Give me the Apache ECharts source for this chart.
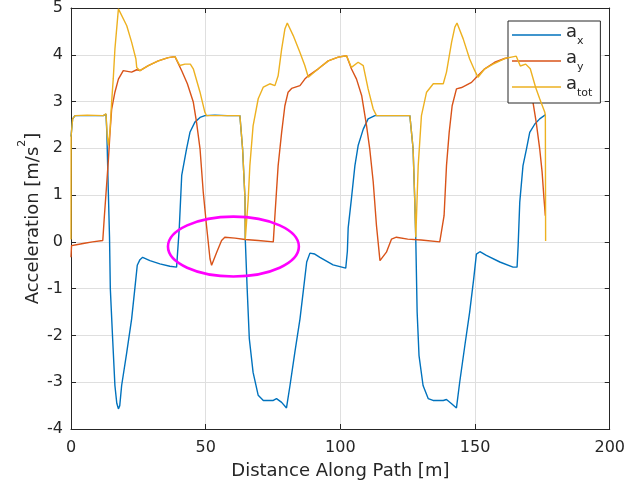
<!DOCTYPE html>
<html>
<head>
<meta charset="utf-8">
<script src="https://cdn.jsdelivr.net/npm/echarts@6/dist/echarts.min.js"></script>
<style>
  html, body { margin: 0; padding: 0; background: #fff; }
  #chart { width: 628px; height: 485px; }
</style>
</head>
<body>
<div id="chart"></div>
<script>
// Longitudinal acceleration a_x along the path: [distance m, m/s^2]
const axData = [
  [0, 2.25], [0.6, 2.63], [1.5, 2.70], [6, 2.70], [12, 2.70], [13.0, 2.73], [13.3, 2.35],
  [13.8, 1.2], [14.3, 0.1], [14.6, -1.0], [15.4, -2.0], [16.3, -3.07], [17.0, -3.45],
  [17.6, -3.57], [18.1, -3.5], [18.8, -3.07], [20.7, -2.36], [22.5, -1.65], [23.7, -1.0],
  [24.6, -0.5], [25.6, -0.38], [26.6, -0.33], [29.3, -0.4], [33.0, -0.47], [36.7, -0.52],
  [39.2, -0.54], [39.9, -0.5], [40.2, 0.3], [41.1, 1.42], [42.9, 1.99], [44.2, 2.35],
  [46.0, 2.56], [47.9, 2.66], [49.7, 2.70], [53.4, 2.71], [58, 2.70], [62.7, 2.70],
  [63.7, 1.99], [64.6, 0.92], [64.7, 0.05], [65.4, -1.0], [66.2, -2.07], [67.6, -2.79],
  [69.5, -3.28], [71.4, -3.39], [75.1, -3.39], [76.3, -3.35], [78.2, -3.43], [80.0, -3.55],
  [81.3, -3.07], [83.1, -2.36], [85.0, -1.65], [86.2, -1.07], [87.5, -0.43], [88.7, -0.24],
  [89.3, -0.21], [90.5, -0.26], [92.4, -0.33], [97.3, -0.49], [102.0, -0.56], [102.6, -0.2],
  [102.9, 0.3], [104.1, 0.92], [105.4, 1.63], [106.6, 2.06], [108.5, 2.41], [110.3, 2.63],
  [112.8, 2.70], [120, 2.70], [125.8, 2.70], [127.0, 1.99], [127.6, 0.92], [128.0, 0.05],
  [128.5, -1.5], [129.2, -2.43], [130.7, -3.07], [132.6, -3.35], [134.4, -3.39],
  [138.2, -3.39], [139.4, -3.37], [141.3, -3.46], [143.1, -3.55], [144.3, -3.0],
  [146.2, -2.22], [148.0, -1.5], [149.5, -0.79], [150.5, -0.26], [151.8, -0.21],
  [154.2, -0.29], [159.2, -0.43], [164.1, -0.54], [165.6, -0.54], [166.0, -0.08],
  [166.6, 0.85], [167.8, 1.63], [169.1, 1.99], [170.3, 2.34], [172.2, 2.52], [174.0, 2.63],
  [176.2, 2.72]
];

// Lateral acceleration a_y
const ayData = [
  [0, -0.33], [0.2, -0.08], [2, -0.06], [5, -0.03], [8, 0.0], [11.8, 0.03], [12.4, 0.56],
  [13.2, 1.2], [13.9, 1.77], [14.5, 2.35], [15.1, 2.84], [16.3, 3.2], [17.6, 3.48],
  [19.4, 3.66], [22.5, 3.63], [24.4, 3.68], [25.6, 3.66], [28.7, 3.77], [32.4, 3.87],
  [36.1, 3.94], [38.6, 3.96], [39.2, 3.97], [41.1, 3.66], [43.2, 3.38], [45.4, 2.99],
  [46.6, 2.56], [47.9, 1.99], [49.1, 1.06], [50.3, 0.35], [51.6, -0.36], [52.2, -0.5],
  [54.1, -0.22], [55.9, 0.03], [57.1, 0.1], [60.9, 0.08], [64.6, 0.05], [69.5, 0.03],
  [75.1, 0.0], [75.7, 0.56], [76.9, 1.63], [78.2, 2.34], [79.4, 2.91], [80.6, 3.2],
  [81.9, 3.28], [85.0, 3.34], [86.8, 3.48], [88.1, 3.55], [91.8, 3.7], [95.5, 3.87],
  [99.2, 3.95], [102.3, 3.98], [104.1, 3.7], [106.0, 3.48], [107.9, 3.13], [109.7, 2.49],
  [110.9, 1.99], [112.2, 1.28], [113.4, 0.35], [114.7, -0.4], [115.3, -0.43], [117.1, -0.22],
  [119.0, 0.06], [120.8, 0.1], [125, 0.06], [130, 0.04], [136.9, 0.0], [137.5, 0.02],
  [138.5, 0.56], [139.4, 1.63], [140.4, 2.34], [141.5, 2.91], [143.1, 3.27], [145.0, 3.3],
  [148.7, 3.41], [150.5, 3.52], [153.6, 3.7], [157.3, 3.84], [161.0, 3.92], [163.5, 3.95],
  [165.3, 3.97], [167.2, 3.66], [169.3, 3.38], [171.5, 2.99], [172.7, 2.56], [174.0, 1.99],
  [174.9, 1.49], [175.6, 0.92], [176.1, 0.56]
];

// Total acceleration magnitude a_tot
const atotData = [
  [0, 0.05], [0.05, 2.27], [0.6, 2.63], [1.5, 2.7], [6, 2.71], [12, 2.7], [13.0, 2.74],
  [13.4, 2.3], [13.9, 2.06], [14.5, 2.4], [15.1, 3.0], [15.7, 3.5], [16.3, 4.12],
  [17.6, 4.98], [18.2, 5.01], [20.7, 4.62], [22.5, 4.27], [24.1, 3.91], [24.4, 3.73],
  [25.6, 3.66], [28.7, 3.77], [32.4, 3.87], [36.1, 3.94], [38.6, 3.96], [39.2, 3.97],
  [40.4, 3.77], [42.3, 3.8], [44.3, 3.8], [45.4, 3.7], [47.9, 3.2], [49.7, 2.77], [50.3, 2.7],
  [56, 2.7], [62.7, 2.7], [63.7, 1.99], [64.6, 0.92], [64.7, 0.05], [65.8, 0.92],
  [66.4, 1.63], [67.6, 2.48], [69.5, 3.06], [71.4, 3.31], [73.8, 3.38], [75.7, 3.34],
  [76.9, 3.55], [78.2, 4.12], [79.4, 4.55], [80.3, 4.68], [82.5, 4.41], [85.0, 4.05],
  [86.8, 3.77], [88.1, 3.52], [91.8, 3.7], [95.5, 3.87], [99.2, 3.95], [102.3, 3.98],
  [104.1, 3.73], [106.6, 3.84], [108.5, 3.77], [110.3, 3.27], [112.2, 2.84], [113.4, 2.7],
  [120, 2.7], [125.8, 2.7], [127.0, 1.99], [127.6, 0.92], [128.0, 0.1], [128.9, 1.63],
  [130.1, 2.7], [132.0, 3.2], [134.5, 3.38], [138.2, 3.38], [139.4, 3.63], [141.3, 4.27],
  [142.5, 4.59], [143.3, 4.68], [145.6, 4.34], [148.0, 3.91], [149.9, 3.66], [151.1, 3.52],
  [153.6, 3.7], [156.7, 3.8], [161.0, 3.92], [163.5, 3.95], [165.3, 3.97], [166.8, 3.76],
  [168.8, 3.8], [170.5, 3.7], [172.5, 3.3], [174.0, 3.06], [175.9, 2.77], [176.1, 2.71],
  [176.2, 0.02]
];

// Highlighted region: [centre distance, centre accel, half-width m, half-height m/s^2]
const highlightRegion = [[60.3, -0.1, 24.3, 0.64]];

const seriesNames = ['ax', 'ay', 'atot'];
const legendSubscripts = { ax: 'x', ay: 'y', atot: 'tot' };
const seriesColors = ['#0072BD', '#D95319', '#EDB120'];

const xTicks = { min: 0, max: 200, interval: 50 };
const yTicks = { min: -4, max: 5, interval: 1 };

const FONT = 'DejaVu Sans';
const INK = '#262626';

const chart = echarts.init(document.getElementById('chart'), null, { renderer: 'canvas' });

function axisBase(range, extra) {
  return Object.assign({
    type: 'value',
    min: range.min, max: range.max, interval: range.interval,
    axisLine: { show: true, onZero: false, lineStyle: { color: INK, width: 1 } },
    axisTick: { show: true, inside: true, length: 5, lineStyle: { color: INK, width: 1 } },
    splitLine: { show: false },
    axisLabel: { show: false }
  }, extra);
}

const lineSeries = [axData, ayData, atotData].map((d, i) => ({
  name: seriesNames[i],
  type: 'line',
  data: d,
  symbol: 'none',
  showSymbol: false,
  animation: false,
  lineStyle: { color: seriesColors[i], width: 1.4 },
  itemStyle: { color: seriesColors[i] },
  z: 2 + i
}));

chart.setOption({
  animation: false,
  backgroundColor: '#ffffff',
  textStyle: { fontFamily: FONT },
  grid: { left: 71, right: 18, top: 8, bottom: 52, containLabel: false },
  xAxis: [
    axisBase(xTicks, {
      position: 'bottom',
      name: 'Distance Along Path [m]',
      nameLocation: 'middle',
      nameGap: 33,
      nameMoveOverlap: false,
      nameTextStyle: { color: INK, fontSize: 18, fontFamily: FONT },
      splitLine: { show: true, lineStyle: { color: '#dfdfdf', width: 1 } },
      axisLabel: { show: true, color: INK, fontSize: 16, fontFamily: FONT, margin: 11 }
    }),
    axisBase(xTicks, { position: 'top' })
  ],
  yAxis: [
    axisBase(yTicks, {
      position: 'left',
      name: '{n|Acceleration [m/s}{sup|2}{n|]}',
      nameLocation: 'middle',
      nameGap: 29,
      nameMoveOverlap: false,
      nameTextStyle: {
        color: INK, fontFamily: FONT,
        rich: {
          n: { fontSize: 18, fontFamily: FONT, color: INK, lineHeight: 25, verticalAlign: 'bottom' },
          sup: { fontSize: 11, fontFamily: FONT, color: INK, lineHeight: 11, verticalAlign: 'top' }
        }
      },
      splitLine: { show: true, lineStyle: { color: '#dfdfdf', width: 1 } },
      axisLabel: { show: true, color: INK, fontSize: 16, fontFamily: FONT, margin: 8 }
    }),
    axisBase(yTicks, { position: 'right' })
  ],
  legend: {
    orient: 'vertical',
    left: 508,
    top: 21,
    data: seriesNames,
    icon: 'rect',
    itemWidth: 49,
    itemHeight: 1.4,
    itemGap: 2,
    padding: [2, 8, 4, 4],
    borderColor: INK,
    borderWidth: 1,
    borderRadius: 0,
    backgroundColor: '#ffffff',
    selectedMode: false,
    formatter: name => '{a|a}{s|' + legendSubscripts[name] + '}',
    textStyle: {
      color: INK,
      fontFamily: FONT,
      rich: {
        a: { fontSize: 18, fontFamily: FONT, color: INK, lineHeight: 18, verticalAlign: 'top' },
        s: { fontSize: 11, fontFamily: FONT, color: INK, lineHeight: 24, verticalAlign: 'bottom' }
      }
    }
  },
  series: lineSeries.concat([{
    type: 'custom',
    name: 'region',
    xAxisIndex: 0,
    yAxisIndex: 0,
    data: highlightRegion,
    silent: true,
    z: 10,
    renderItem: function (params, api) {
      const c = api.coord([api.value(0), api.value(1)]);
      const s = api.size([api.value(2), api.value(3)]);
      return {
        type: 'ellipse',
        shape: { cx: c[0], cy: c[1], rx: s[0], ry: s[1] },
        style: { fill: 'none', stroke: '#ff00ff', lineWidth: 2.6 }
      };
    }
  }])
});
</script>
</body>
</html>
